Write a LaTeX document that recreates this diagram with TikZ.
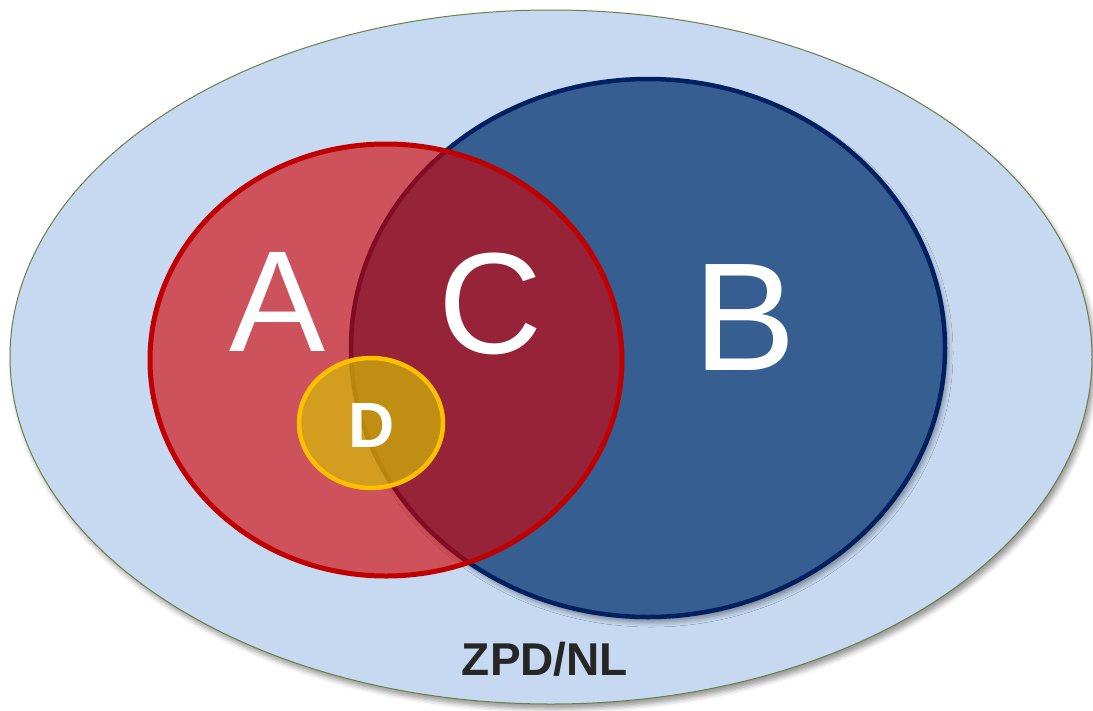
\documentclass[tikz,border=0pt]{standalone}
\usepackage{fontspec}
\setmainfont{Liberation Sans}
\usetikzlibrary{shapes.geometric, shadows.blur}

\definecolor{zpdfill}{RGB}{198,217,241}
\definecolor{zpdline}{RGB}{107,127,72}
\definecolor{bfill}{RGB}{54,94,145}
\definecolor{bline}{RGB}{0,32,96}
\definecolor{afill}{RGB}{210,0,0}
\definecolor{aline}{RGB}{192,0,0}
\definecolor{dfill}{RGB}{215,200,0}
\definecolor{dline}{RGB}{255,192,0}
\definecolor{captxt}{RGB}{38,38,38}

\begin{document}
\begin{tikzpicture}[x=1pt, y=-1pt,
		set/.style={ellipse, inner sep=0pt, line width=4.5pt},
		big/.style={text=white, inner sep=0pt, font=\fontsize{144}{144}\selectfont},
		soft/.style={blur shadow={shadow xshift=3pt, shadow yshift=-5pt, shadow blur radius=5pt, shadow opacity=40}}]
		\useasboundingbox (0,0) rectangle (1093,710);

		\node[set, soft, draw=zpdline, line width=1pt, fill=zpdfill, minimum width=1082pt, minimum height=694pt] (zpd) at (551,357) {};
		\node[set, soft, draw=bline, fill=bfill, minimum width=594pt, minimum height=538pt] (b) at (648,348) {};
		\node[set, draw=aline, fill=afill, fill opacity=0.62, line width=5pt, minimum width=472pt, minimum height=432pt] (a) at (386,360) {};
		\node[set, draw=dline, fill=dfill, fill opacity=0.65, minimum width=144pt, minimum height=130pt] (d) at (371,423) {};

		\node[big] (la) at (278,302) {A};
		\node[big] (lc) at (490,304) {C};
		\node[big, font=\fontsize{154}{154}\selectfont] (lb) at (745,318) {B};
		\node[text=white, inner sep=0pt, font=\fontsize{64}{64}\selectfont\bfseries] (ld) at (372,425) {D};
		\node[text=captxt, inner sep=0pt, font=\fontsize{46}{46}\selectfont\bfseries] (lzpd) at (545,659) {ZPD/NL};
	\end{tikzpicture}
\end{document}
